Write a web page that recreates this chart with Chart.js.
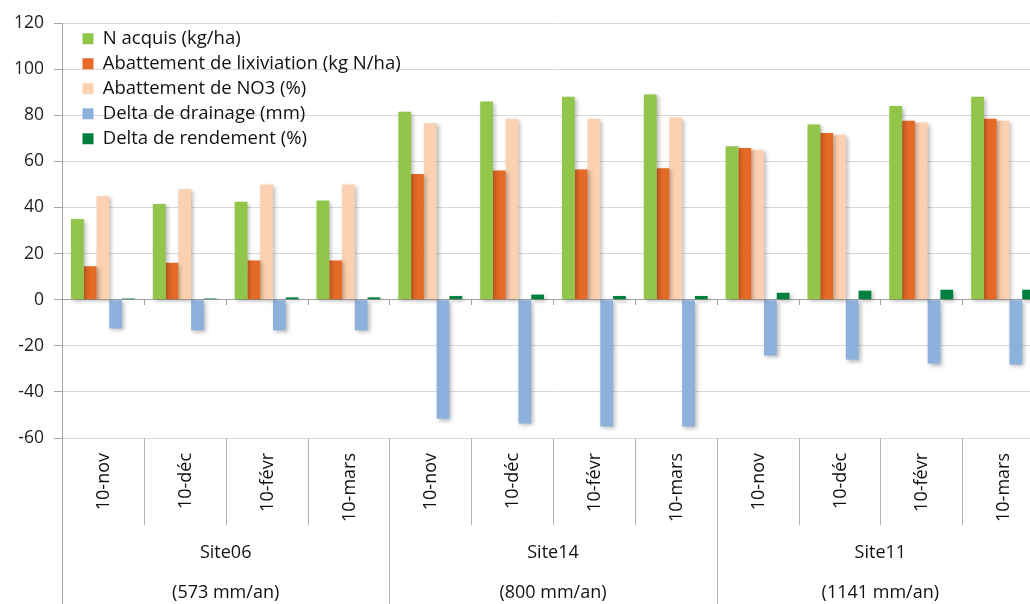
<!DOCTYPE html>
<html>
<head>
<meta charset="utf-8">
<script src="https://cdn.jsdelivr.net/npm/chart.js@4"></script>
<style>
    html, body { margin: 0; padding: 0; background: #fff; overflow: hidden; }
    #wrap { width: 1044px; height: 604px; }
</style>
</head>
<body>
<div id="wrap"><canvas id="bar-chart"></canvas></div>
<script>
// Data
const sites = ['Site06', 'Site14', 'Site11'];
const pluies = ['(573 mm/an)', '(800 mm/an)', '(1141 mm/an)'];
const months = ['10-nov', '10-déc', '10-févr', '10-mars'];

const nAcquis = [35, 41.5, 42.5, 43, 81.5, 86, 88, 89, 66.5, 76, 84, 88];
const abattLixiviation = [14.5, 16, 17, 17, 54.5, 56, 56.5, 57, 65.8, 72.3, 77.6, 78.5];
const abattNO3 = [45, 48, 50, 50, 76.5, 78.5, 78.5, 79, 65, 71.5, 76.8, 77.6];
const deltaDrainage = [-12.5, -13.3, -13.3, -13.3, -51.7, -53.7, -55, -55, -24.2, -26, -27.7, -28.1];
const deltaRendement = [0.5, 0.5, 1, 1, 1.6, 2.2, 1.6, 1.6, 3, 3.9, 4.3, 4.3];

const yTicks = [-60, -40, -20, 0, 20, 40, 60, 80, 100, 120];

const labels = sites.flatMap(() => months);

Chart.defaults.font.family = "'Open Sans', sans-serif";
Chart.defaults.color = '#222';

// shadow under the bars, like the Excel original
const barShadow = {
    id: 'barShadow',
    beforeDatasetsDraw(chart) {
        const ctx = chart.ctx;
        ctx.save();
        ctx.shadowColor = 'rgba(0,0,0,0.28)';
        ctx.shadowBlur = 4;
        ctx.shadowOffsetX = 2;
        ctx.shadowOffsetY = 2;
    },
    afterDatasetsDraw(chart) {
        chart.ctx.restore();
    }
};

// move the legend inside the plot, top left
const legendShift = {
    id: 'legendShift',
    afterLayout(chart) {
        chart.legend.left += 14;
        chart.legend.top += 23;
    }
};

// two level category axis drawn under the plot
const groupAxis = {
    id: 'groupAxis',
    afterDraw(chart) {
        const ctx = chart.ctx;
        const x = chart.scales.x;
        const area = chart.chartArea;
        const n = chart.data.labels.length;
        const per = months.length;
        const y0 = Math.round(chart.scales.y.getPixelForValue(0));
        ctx.save();
        ctx.lineWidth = 1;
        for (let i = 1; i < n; i++) {
            const px = Math.round(x.getPixelForValue(i - 0.5)) + 0.5;
            const end = (i % per === 0) ? chart.height : area.bottom + 87;
            ctx.strokeStyle = '#B4B4B4';
            ctx.beginPath();
            ctx.moveTo(px, area.bottom);
            ctx.lineTo(px, end);
            ctx.stroke();
            // small tick on the zero line
            ctx.strokeStyle = '#A0A0A0';
            ctx.beginPath();
            ctx.moveTo(px, y0);
            ctx.lineTo(px, y0 + 5);
            ctx.stroke();
        }
        // y axis line continues to the bottom
        ctx.strokeStyle = '#A6A6A6';
        ctx.beginPath();
        ctx.moveTo(area.left + 0.5, area.bottom);
        ctx.lineTo(area.left + 0.5, chart.height);
        ctx.stroke();

        ctx.fillStyle = '#111';
        ctx.font = "18px 'Open Sans', sans-serif";
        ctx.textBaseline = 'middle';
        chart.data.labels.forEach((lab, i) => {
            ctx.save();
            ctx.translate(x.getPixelForValue(i), area.bottom + 15);
            ctx.rotate(-Math.PI / 2);
            ctx.textAlign = 'right';
            ctx.fillText(lab, 0, 1);
            ctx.restore();
        });
        ctx.textAlign = 'center';
        sites.forEach((s, k) => {
            const cx = x.getPixelForValue(k * per + (per - 1) / 2);
            ctx.fillText(s, cx, area.bottom + 115);
            ctx.fillText(pluies[k], cx, area.bottom + 155);
        });
        ctx.restore();
    }
};

new Chart(document.getElementById('bar-chart'), {
    type: 'bar',
    data: {
        labels: labels,
        datasets: [
            { label: 'N acquis (kg/ha)', data: nAcquis, backgroundColor: '#92C64B' },
            { label: 'Abattement de lixiviation (kg N/ha)', data: abattLixiviation, backgroundColor: '#E46A25' },
            { label: 'Abattement de NO3 (%)', data: abattNO3, backgroundColor: '#FBD1B1' },
            { label: 'Delta de drainage (mm)', data: deltaDrainage, backgroundColor: '#8DB1DD' },
            { label: 'Delta de rendement (%)', data: deltaRendement, backgroundColor: '#00803F' }
        ]
    },
    options: {
        responsive: true,
        maintainAspectRatio: false,
        animation: false,
        categoryPercentage: 0.78,
        barPercentage: 1.0,
        layout: {
            padding: { top: 23, bottom: 166, left: 0, right: 0 }
        },
        scales: {
            x: {
                display: false,
            },
            y: {
                min: -60,
                max: 120,
                afterBuildTicks: (scale) => {
                    scale.ticks = yTicks.map(v => ({ value: v }));
                },
                afterFit: (scale) => {
                    scale.width = 62;
                },
                border: { color: '#A6A6A6' },
                grid: {
                    color: (c) => c.tick && c.tick.value === 0 ? '#A0A0A0' : '#D9D9D9',
                    tickColor: '#A6A6A6',
                    tickLength: 8,
                },
                ticks: {
                    padding: 10,
                    color: '#222',
                    font: { size: 17.5 },
                },
            },
        },
        plugins: {
            legend: {
                position: 'chartArea',
                align: 'start',
                labels: {
                    boxWidth: 11,
                    boxHeight: 11,
                    padding: 6.5,
                    color: '#111',
                    font: { size: 18.5 },
                },
            },
            tooltip: { enabled: false },
        },
    },
    plugins: [barShadow, legendShift, groupAxis],
});
</script>
</body>
</html>
